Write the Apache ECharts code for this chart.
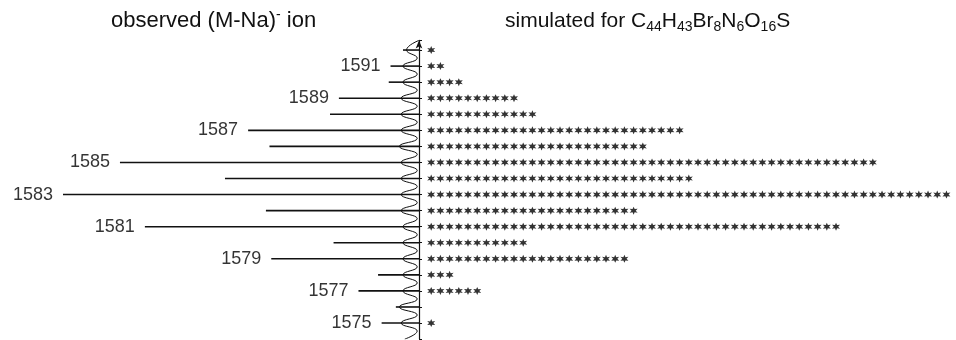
<!DOCTYPE html>
<html>
<head>
<meta charset="utf-8">
<script src="https://cdn.jsdelivr.net/npm/echarts@6/dist/echarts.min.js"></script>
<style>
  html, body { margin: 0; padding: 0; background: #fff; }
  #chart { width: 956px; height: 340px; }
</style>
</head>
<body>
<div id="chart"></div>
<script>
// masses, top to bottom
const masses = [1592, 1591, 1590, 1589, 1588, 1587, 1586, 1585, 1584, 1583, 1582, 1581, 1580, 1579, 1578, 1577, 1576, 1575];
// observed peak heights (% of 1583)
const observed = [4.5, 8, 8.5, 22.5, 25, 48, 42, 84, 54.5, 100, 43, 77, 24, 41.5, 11.5, 17, 6.5, 10.5];
// simulated pattern: number of asterisks per mass
const simulatedStars = [1, 2, 4, 10, 12, 28, 24, 49, 29, 57, 23, 45, 11, 22, 3, 6, 0, 1];
// masses that carry a label
const labelledMasses = [1591, 1589, 1587, 1585, 1583, 1581, 1579, 1577, 1575];
// the curly base of the profile near the axis: [mass, depth %]
const baselineCurl = [
  [1592.6, 0], [1592, 3.5], [1591.5, 0.5], [1591, 4.5], [1590.5, 0.5], [1590, 4.5], [1589.5, 0.5],
  [1589, 5], [1588.5, 0.5], [1588, 5], [1587.5, 0.5], [1587, 5], [1586.5, 0.5], [1586, 5.5],
  [1585.5, 0.5], [1585, 5], [1584.5, 0.5], [1584, 5], [1583.5, 0.5], [1583, 5], [1582.5, 0.5],
  [1582, 5], [1581.5, 0.5], [1581, 4.5], [1580.5, 0.5], [1580, 4.5], [1579.5, 0.5], [1579, 4.5],
  [1578.5, 0.5], [1578, 4.5], [1577.5, 0.5], [1577, 4.5], [1576.5, 0.5], [1576, 5.5], [1575.5, 0.5],
  [1575, 5], [1574.5, 0.5], [1574, 4]
];

const FONT = "'Liberation Sans', Arial, Helvetica, sans-serif";
const INK = "#111";

const Y_MIN = 1574;
const Y_MAX = 1592.6;
const TOP = 40.4;
const HEIGHT = 298.7;

const starPath = "path://M10 0 L12.3 6 L18.7 5 L14.6 10 L18.7 15 L12.3 14 L10 20 L7.7 14 L1.3 15 L5.4 10 L1.3 5 L7.7 6 Z";

const spikeData = masses.map((m, i) => [observed[i], m]);
const labelData = masses
  .map((m, i) => [observed[i], m])
  .filter(d => labelledMasses.includes(d[1]));
const starData = [];
masses.forEach((m, i) => {
  for (let k = 1; k <= simulatedStars[i]; k++) starData.push([k, m]);
});

const chart = echarts.init(document.getElementById("chart"), null, { renderer: "canvas" });

const titleRich = {
  sub: { fontSize: 14, fontFamily: FONT, color: INK, verticalAlign: "bottom", lineHeight: 14 },
  sup: { fontSize: 14, fontFamily: FONT, color: INK, verticalAlign: "top", lineHeight: 14 }
};

chart.setOption({
  animation: false,
  backgroundColor: "#fff",
  title: [
    {
      text: "observed (M-Na){sup|-} ion",
      left: 106,
      top: 3,
      textStyle: { fontSize: 22, fontWeight: "normal", fontFamily: FONT, color: INK, lineHeight: 26, rich: titleRich }
    },
    {
      text: "simulated for C{sub|44}H{sub|43}Br{sub|8}N{sub|6}O{sub|16}S",
      left: 500,
      top: 3,
      textStyle: { fontSize: 21, fontWeight: "normal", fontFamily: FONT, color: INK, lineHeight: 26, rich: titleRich }
    }
  ],
  grid: [
    { left: 63, width: 356, top: TOP, height: HEIGHT },
    { left: 422, width: 534, top: TOP, height: HEIGHT }
  ],
  xAxis: [
    { gridIndex: 0, type: "value", inverse: true, min: 0, max: 100, show: false },
    { gridIndex: 1, type: "value", min: 0, max: 58.04, show: false }
  ],
  yAxis: [
    {
      gridIndex: 0, type: "value", position: "right", min: Y_MIN, max: Y_MAX, interval: 1,
      axisLine: { show: true, lineStyle: { color: INK, width: 1.2 }, symbol: ["none", "arrow"], symbolSize: [5, 8] },
      axisTick: { show: true, length: 3, lineStyle: { color: INK } },
      axisLabel: { show: false },
      splitLine: { show: false }
    },
    { gridIndex: 1, type: "value", min: Y_MIN, max: Y_MAX, show: false }
  ],
  series: [
    {
      name: "curl",
      type: "line",
      xAxisIndex: 0, yAxisIndex: 0,
      data: baselineCurl.map(d => [d[1], d[0]]),
      smooth: 0.5,
      symbol: "none",
      lineStyle: { color: INK, width: 1 },
      silent: true
    },
    {
      name: "observed",
      type: "custom",
      xAxisIndex: 0, yAxisIndex: 0,
      data: spikeData,
      renderItem: (params, api) => {
        const base = api.coord([0, api.value(1)]);
        const tip = api.coord([api.value(0), api.value(1)]);
        return {
          type: "line",
          shape: { x1: base[0], y1: base[1], x2: tip[0], y2: tip[1] },
          style: { stroke: INK, lineWidth: 1.6 }
        };
      }
    },
    {
      name: "labels",
      type: "scatter",
      xAxisIndex: 0, yAxisIndex: 0,
      data: labelData,
      symbolSize: 0,
      label: {
        show: true,
        position: "left",
        distance: 10,
        formatter: p => String(p.value[1]),
        fontFamily: FONT,
        fontSize: 18,
        color: "#000"
      },
      silent: true
    },
    {
      name: "simulated",
      type: "scatter",
      xAxisIndex: 1, yAxisIndex: 1,
      data: starData,
      symbol: starPath,
      symbolSize: 8,
      itemStyle: { color: "#000" },
      silent: true
    }
  ]
});
</script>
</body>
</html>
